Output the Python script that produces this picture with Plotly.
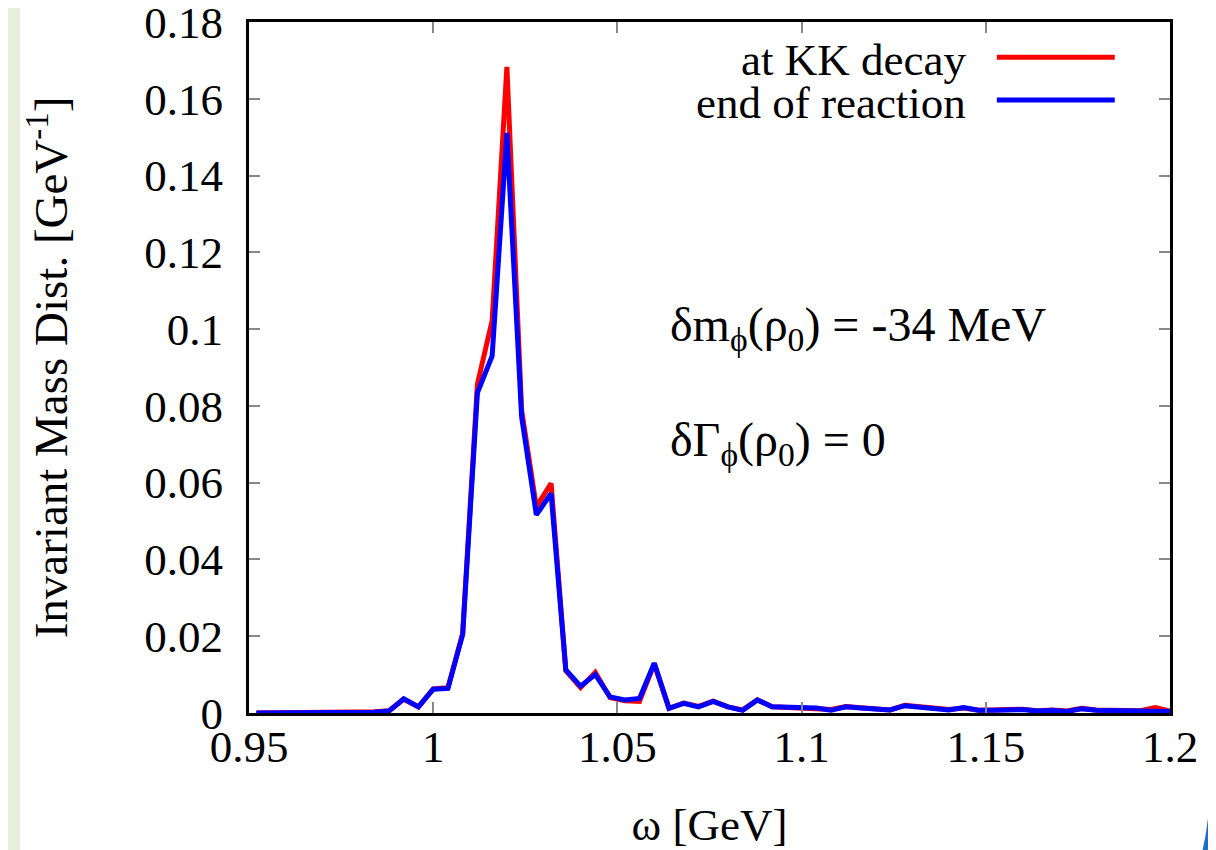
import plotly.graph_objects as go

# invariant mass bins [GeV]
omega = [0.952, 0.956, 0.960, 0.964, 0.968, 0.972, 0.976, 0.980, 0.984, 0.988,
         0.992, 0.996, 1.000, 1.004, 1.008, 1.012, 1.016, 1.020, 1.024, 1.028,
         1.032, 1.036, 1.040, 1.044, 1.048, 1.052, 1.056, 1.060, 1.064, 1.068,
         1.072, 1.076, 1.080, 1.084, 1.088, 1.092, 1.096, 1.100, 1.104, 1.108,
         1.112, 1.116, 1.120, 1.124, 1.128, 1.132, 1.136, 1.140, 1.144, 1.148,
         1.152, 1.156, 1.160, 1.164, 1.168, 1.172, 1.176, 1.180, 1.184, 1.188,
         1.192, 1.196, 1.200]

# distribution at KK decay
at_kk_decay = [0.0, 0.0, 0.0, 0.0, 0.0, 0.0, 0.0, 0.0001, 0.0003, 0.0006,
               0.0036, 0.0016, 0.0063, 0.0066, 0.0207, 0.0857, 0.1022, 0.1683, 0.0789, 0.0537,
               0.0598, 0.0110, 0.0066, 0.0106, 0.0040, 0.0032, 0.0030, 0.0128, 0.0012, 0.0026,
               0.0017, 0.0031, 0.0016, 0.0008, 0.0034, 0.0016, 0.0015, 0.0013, 0.0012, 0.0009,
               0.0017, 0.0013, 0.0010, 0.0008, 0.0020, 0.0016, 0.0012, 0.0009, 0.0013, 0.0007,
               0.0008, 0.0009, 0.0010, 0.0006, 0.0008, 0.0005, 0.0012, 0.0008, 0.0007, 0.0005,
               0.0006, 0.0014, 0.0005]

# distribution at end of reaction
end_of_reaction = [0.0, 0.0, 0.0, 0.0, 0.0, 0.0, 0.0, 0.0, 0.0002, 0.0005,
                   0.0037, 0.0016, 0.0062, 0.0064, 0.0205, 0.0834, 0.0930, 0.1511, 0.0772, 0.0516,
                   0.0572, 0.0112, 0.0070, 0.0100, 0.0042, 0.0034, 0.0038, 0.0130, 0.0012, 0.0025,
                   0.0016, 0.0030, 0.0016, 0.0007, 0.0034, 0.0016, 0.0014, 0.0013, 0.0013, 0.0007,
                   0.0016, 0.0013, 0.0009, 0.0008, 0.0019, 0.0016, 0.0011, 0.0008, 0.0014, 0.0007,
                   0.0007, 0.0008, 0.0009, 0.0005, 0.0007, 0.0004, 0.0011, 0.0007, 0.0007, 0.0004,
                   0.0005, 0.0005, 0.0004]

series_names = ["at KK decay", "end of reaction"]
series_colors = ["#ff0000", "#0000ff"]

x_ticks = [0.95, 1.0, 1.05, 1.1, 1.15, 1.2]
x_ticklabels = ["0.95", "1", "1.05", "1.1", "1.15", "1.2"]
y_ticks = [0, 0.02, 0.04, 0.06, 0.08, 0.1, 0.12, 0.14, 0.16, 0.18]
y_ticklabels = ["0", "0.02", "0.04", "0.06", "0.08", "0.1", "0.12", "0.14", "0.16", "0.18"]

FONT = "Liberation Serif"

fig = go.Figure()
fig.add_trace(go.Scatter(x=omega, y=at_kk_decay, mode="lines", name=series_names[0],
                         line=dict(color=series_colors[0], width=5), showlegend=False))
fig.add_trace(go.Scatter(x=omega, y=end_of_reaction, mode="lines", name=series_names[1],
                         line=dict(color=series_colors[1], width=5), showlegend=False))

axis_common = dict(
    showgrid=False, zeroline=False,
    showline=True, linecolor="black", linewidth=3, mirror="ticks",
    ticks="inside", ticklen=11, tickwidth=1.5, tickcolor="#888888",
    tickfont=dict(family=FONT, size=45, color="black"),
    ticklabeloverflow="allow",
)

fig.update_xaxes(range=[0.95, 1.2], tickvals=x_ticks, ticktext=x_ticklabels,
                 title=dict(text="ω [GeV]", font=dict(family=FONT, size=45, color="black"), standoff=40),
                 ticklabelstandoff=-8, **axis_common)
fig.update_yaxes(range=[0, 0.18], tickvals=y_ticks, ticktext=y_ticklabels,
                 title=dict(text="Invariant Mass Dist. [GeV<sup>-1</sup>]",
                            font=dict(family=FONT, size=47, color="black"), standoff=62),
                 ticklabelstandoff=14, **axis_common)

# gnuplot-style key: text right-aligned, sample line on the right
key_y = [0.945, 0.883]
for name, color, ky in zip(series_names, series_colors, key_y):
    fig.add_annotation(x=0.781, y=ky, xref="paper", yref="paper", text=name, showarrow=False,
                       xanchor="right", yanchor="middle", font=dict(family=FONT, size=45, color="black"))
    fig.add_shape(type="line", xref="paper", yref="paper", x0=0.812, x1=0.940, y0=ky + 0.004, y1=ky + 0.004,
                  line=dict(color=color, width=5))

fig.add_annotation(x=0.455, y=0.557, xref="paper", yref="paper", showarrow=False,
                   xanchor="left", yanchor="middle",
                   text="δm<sub>ϕ</sub>(ρ<sub>0</sub>) = -34 MeV",
                   font=dict(family=FONT, size=48, color="black"))
fig.add_annotation(x=0.455, y=0.391, xref="paper", yref="paper", showarrow=False,
                   xanchor="left", yanchor="middle",
                   text="δΓ<sub>ϕ</sub>(ρ<sub>0</sub>) = 0",
                   font=dict(family=FONT, size=48, color="black"))

# slide decorations: pale green strip on the left edge, blue arc at bottom right
fig.add_shape(type="rect", xref="paper", yref="paper", x0=-0.28, x1=-0.2486, y0=-0.21, y1=1.05,
              fillcolor="#e8f0dc", line=dict(width=0), layer="below")
fig.add_shape(type="rect", xref="paper", yref="paper", x0=1.0467, x1=1.06, y0=-0.21, y1=1.05,
              fillcolor="#e8f0dc", line=dict(width=0), layer="below")
fig.add_shape(type="path", xref="paper", yref="paper",
              path="M 1.0470 -0.095 Q 1.0455 -0.160 1.0370 -0.205",
              line=dict(color="#1a6fc4", width=5))

# page body has an 8 px margin, so the figure is 8 px smaller than the window
fig.update_layout(
    width=1208, height=842,
    margin=dict(l=241, r=46, t=14, b=137, autoexpand=False),
    plot_bgcolor="white", paper_bgcolor="white",
    font=dict(family=FONT, color="black"),
)

fig.write_html("out.html")
